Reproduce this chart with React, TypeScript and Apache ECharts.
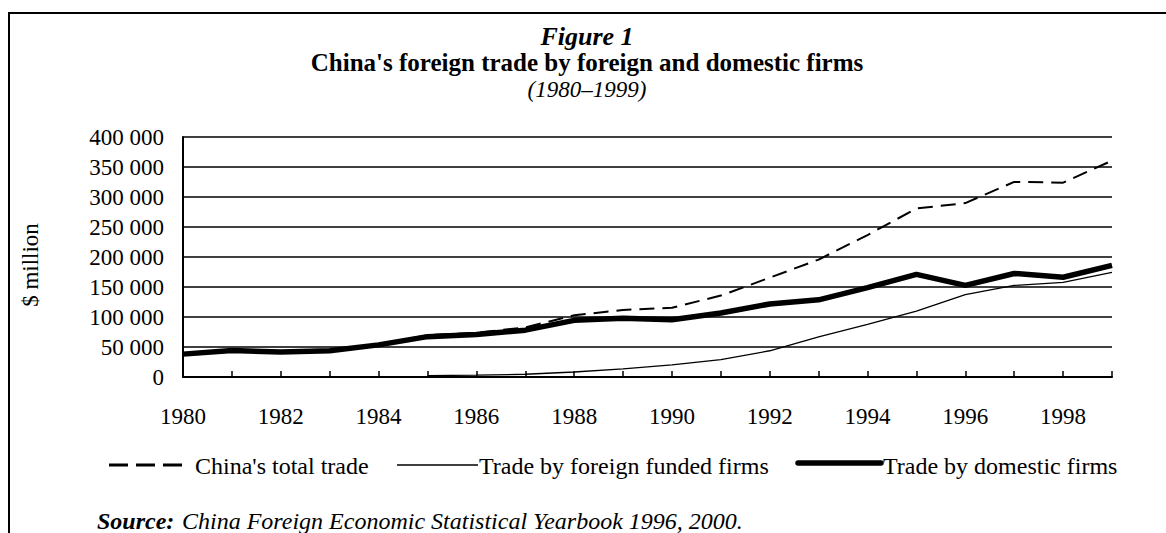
import React, { useEffect, useRef } from "react";
import * as echarts from "echarts";

const years = ["1980","1981","1982","1983","1984","1985","1986","1987","1988","1989","1990","1991","1992","1993","1994","1995","1996","1997","1998","1999"];
const totalTrade = [38136, 44022, 41606, 43616, 53549, 69602, 73846, 82653, 102784, 111678, 115436, 135701, 165525, 195703, 236621, 280864, 289881, 325162, 323949, 360630];
const foreignFirms = [null, null, null, null, null, 2360, 2985, 4584, 8343, 13710, 20120, 28955, 43747, 67070, 87647, 109820, 137110, 152620, 157680, 174510];
const domesticFirms = [38136, 44022, 41606, 43616, 53549, 67242, 70861, 78069, 94441, 97968, 95316, 106746, 121778, 128633, 148974, 171044, 152771, 172542, 166269, 186120];
const seriesNames = ["China's total trade", "Trade by foreign funded firms", "Trade by domestic firms"];
const titleLines = ["Figure 1", "China's foreign trade by foreign and domestic firms", "(1980–1999)"];
const yAxisName = "$ million";
const sourceLabel = "Source:";
const sourceText = "China Foreign Economic Statistical Yearbook 1996, 2000.";

const FONT = "'Liberation Serif', 'Times New Roman', serif";

export default function App() {
  const ref = useRef<HTMLDivElement>(null);
  useEffect(() => {
    if (!ref.current) return;
    const chart = echarts.init(ref.current, null, { renderer: "svg" });
    const fmt = (v: number) => String(v).replace(/\B(?=(\d{3})+(?!\d))/g, " ");
    chart.setOption({
      animation: false,
      backgroundColor: "#fff",
      grid: { left: 183, right: 54, top: 137, bottom: 156 },
      xAxis: {
        type: "category",
        data: years,
        boundaryGap: false,
        axisLine: { lineStyle: { color: "#000", width: 2 } },
        axisTick: { show: true, inside: true, length: 6, interval: 0, lineStyle: { color: "#000", width: 1.5 } },
        axisLabel: { interval: 1, color: "#000", fontFamily: FONT, fontSize: 23, margin: 28 },
        splitLine: { show: false },
      },
      yAxis: {
        type: "value",
        min: 0,
        max: 400000,
        interval: 50000,
        axisLine: { show: true, lineStyle: { color: "#000", width: 2 } },
        axisTick: { show: false },
        axisLabel: { color: "#000", fontFamily: FONT, fontSize: 23, margin: 19, formatter: fmt },
        splitLine: { lineStyle: { color: "#000", width: 1.5 } },
      },
      series: [
        {
          name: seriesNames[0], type: "line", data: totalTrade, symbol: "none", z: 3,
          lineStyle: { color: "#000", width: 2, type: [15, 8] },
        },
        {
          name: seriesNames[1], type: "line", data: foreignFirms, symbol: "none", z: 4,
          lineStyle: { color: "#000", width: 1.3 },
        },
        {
          name: seriesNames[2], type: "line", data: domesticFirms, symbol: "none", z: 2,
          lineStyle: { color: "#000", width: 5.5 },
        },
      ],
      graphic: [
        { type: "line", shape: { x1: 8, y1: 13, x2: 1166, y2: 13 }, style: { stroke: "#000", lineWidth: 2 } },
        { type: "line", shape: { x1: 9, y1: 12, x2: 9, y2: 533 }, style: { stroke: "#000", lineWidth: 2 } },
        { type: "text", x: 587, y: 36, style: { text: titleLines[0], font: `italic bold 26px ${FONT}`, fill: "#000", align: "center", verticalAlign: "middle" } },
        { type: "text", x: 587, y: 62, style: { text: titleLines[1], font: `bold 25px ${FONT}`, fill: "#000", align: "center", verticalAlign: "middle" } },
        { type: "text", x: 587, y: 89, style: { text: titleLines[2], font: `italic 23px ${FONT}`, fill: "#000", align: "center", verticalAlign: "middle" } },
        { type: "text", x: 30, y: 265, rotation: Math.PI / 2, style: { text: yAxisName, font: `23px ${FONT}`, fill: "#000", align: "center", verticalAlign: "middle" } },
        // legend
        { type: "line", shape: { x1: 109, y1: 465, x2: 183, y2: 465 }, style: { stroke: "#000", lineWidth: 3, lineDash: [19, 8] } },
        { type: "text", x: 195, y: 466, style: { text: seriesNames[0], font: `24px ${FONT}`, fill: "#000", align: "left", verticalAlign: "middle" } },
        { type: "line", shape: { x1: 397, y1: 465, x2: 478, y2: 465 }, style: { stroke: "#000", lineWidth: 1.3 } },
        { type: "text", x: 479, y: 466, style: { text: seriesNames[1], font: `24px ${FONT}`, fill: "#000", align: "left", verticalAlign: "middle" } },
        { type: "line", shape: { x1: 798, y1: 463, x2: 881, y2: 463 }, style: { stroke: "#000", lineWidth: 5.5, lineCap: "round" } },
        { type: "text", x: 883, y: 466, style: { text: seriesNames[2], font: `24px ${FONT}`, fill: "#000", align: "left", verticalAlign: "middle" } },
        // source
        { type: "text", x: 97, y: 521, style: { text: sourceLabel, font: `italic bold 24px ${FONT}`, fill: "#000", align: "left", verticalAlign: "middle" } },
        { type: "text", x: 182, y: 521, style: { text: sourceText, font: `italic 24px ${FONT}`, fill: "#000", align: "left", verticalAlign: "middle" } },
      ],
    });
    return () => chart.dispose();
  }, []);
  return <div ref={ref} style={{ position: "fixed", left: 0, top: 0, width: 1166, height: 533 }} />;
}
